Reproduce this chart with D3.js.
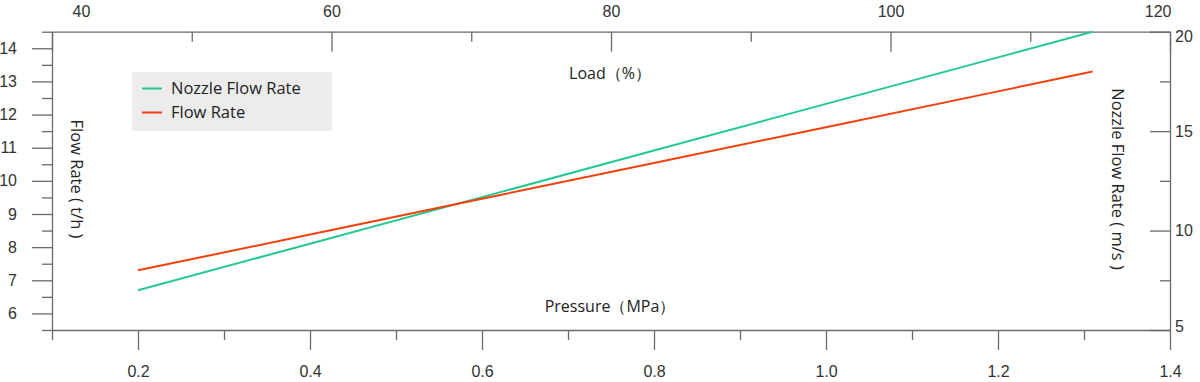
<!DOCTYPE html>
<html>
<head>
<meta charset="utf-8">
<script src="https://cdn.jsdelivr.net/npm/d3@7"></script>
<style>
  html, body { margin: 0; padding: 0; background: #fff; }
  svg { display: block; }
</style>
</head>
<body>
<svg id="chart" width="1200" height="382"></svg>
<script>
// ---- data ----
const pressure = [0.2, 0.4, 0.6, 0.8, 1.0, 1.2, 1.31];          // MPa
const flowRate = [7.3, 8.38, 9.46, 10.54, 11.62, 12.7, 13.3];   // t/h (left axis)
const nozzleFlowRate = [7.0, 9.34, 11.68, 14.03, 16.37, 18.71, 20.0]; // m/s (right axis)

const seriesNames = ["Nozzle Flow Rate", "Flow Rate"];
const seriesColors = ["#22c990", "#f2400f"];

const bottomMajorTicks = [0.2, 0.4, 0.6, 0.8, 1.0, 1.2, 1.4];
const bottomMinorTicks = [0.1, 0.3, 0.5, 0.7, 0.9, 1.1, 1.3];
const bottomTickLabels = ["0.2", "0.4", "0.6", "0.8", "1.0", "1.2", "1.4"];
const topMajorTicks = [40, 60, 80, 100, 120];
const topMinorTicks = [50, 70, 90, 110];
const leftMajorTicks = [6, 7, 8, 9, 10, 11, 12, 13, 14];
const leftMinorTicks = [5.5, 6.5, 7.5, 8.5, 9.5, 10.5, 11.5, 12.5, 13.5, 14.5];
const rightMajorTicks = [5, 10, 15, 20];
const rightMinorTicks = [7.5, 12.5, 17.5];

const labelBottom = "Pressure（MPa）";
const labelTop = "Load（%）";
const labelLeft = "Flow Rate ( t/h )";
const labelRight = "Nozzle Flow Rate ( m/s )";

// ---- layout ----
const L = 52, R = 1170, T = 31.7, B = 330;
const axisColor = "#6a6a6a";
const tickFont = "'Liberation Sans', Arial, sans-serif";
const textFont = "'Open Sans', 'Noto Sans', sans-serif";

const svg = d3.select("#chart");

const x = d3.scaleLinear().domain([0.1, 1.4]).range([L, R]);
const xTop = d3.scaleLinear().domain([40, 120]).range([L, R]);
const yL = d3.scaleLinear().domain([5.5, 14.5]).range([B, T]);
const yR = d3.scaleLinear().domain([5, 20]).range([B, T]);

function styleAxis(g) {
  g.selectAll("path, line").attr("stroke", axisColor).attr("stroke-width", 1.3);
  g.selectAll("text").attr("fill", "#333").style("font-family", tickFont).style("font-size", "16px");
}

// bottom axis
const gB = svg.append("g").attr("transform", `translate(0,${B})`);
gB.call(d3.axisBottom(x).tickValues(bottomMajorTicks).tickSize(20).tickSizeOuter(0).tickPadding(16)
  .tickFormat((d, i) => bottomTickLabels[i]));
gB.append("g").call(d3.axisBottom(x).tickValues(bottomMinorTicks).tickSize(10).tickFormat(""))
  .select(".domain").remove();
styleAxis(gB);

// top axis
const gT = svg.append("g").attr("transform", `translate(0,${T})`);
gT.call(d3.axisTop(xTop).tickValues(topMajorTicks).tickSize(-20).tickSizeOuter(0).tickPadding(15)
  .tickFormat(d3.format("d")));
gT.append("g").call(d3.axisTop(xTop).tickValues(topMinorTicks).tickSize(-10).tickFormat(""))
  .select(".domain").remove();
styleAxis(gT);
gT.selectAll(".tick text").filter(d => d === 40).attr("dx", 29);
gT.selectAll(".tick text").filter(d => d === 120).attr("text-anchor", "end").attr("dx", 1);

// left axis
const gL = svg.append("g").attr("transform", `translate(${L},0)`);
gL.call(d3.axisLeft(yL).tickValues(leftMajorTicks).tickSize(20).tickSizeOuter(0).tickPadding(15)
  .tickFormat(d3.format("d")));
gL.append("g").call(d3.axisLeft(yL).tickValues(leftMinorTicks).tickSize(10).tickFormat(""))
  .select(".domain").remove();
styleAxis(gL);

// right axis
const gR = svg.append("g").attr("transform", `translate(${R},0)`);
gR.call(d3.axisRight(yR).tickValues(rightMajorTicks).tickSize(-20).tickSizeOuter(0).tickPadding(5)
  .tickFormat(d3.format("d")));
gR.append("g").call(d3.axisRight(yR).tickValues(rightMinorTicks).tickSize(-10).tickFormat(""))
  .select(".domain").remove();
styleAxis(gR);
gR.selectAll(".tick text").filter(d => d === 20).attr("dy", "0.62em");
gR.selectAll(".tick text").filter(d => d === 5).attr("dy", "0.07em");

// lines
const lineL = d3.line().x(d => x(d[0])).y(d => yL(d[1]));
const lineR = d3.line().x(d => x(d[0])).y(d => yR(d[1]));
svg.append("path").datum(pressure.map((p, i) => [p, nozzleFlowRate[i]]))
  .attr("d", lineR).attr("fill", "none").attr("stroke", seriesColors[0]).attr("stroke-width", 2);
svg.append("path").datum(pressure.map((p, i) => [p, flowRate[i]]))
  .attr("d", lineL).attr("fill", "none").attr("stroke", seriesColors[1]).attr("stroke-width", 2);

// axis titles
const titleStyle = (s, size) => s.attr("fill", "#222").style("font-family", textFont).style("font-size", size + "px");
svg.append("text").attr("x", 610).attr("y", 79).attr("text-anchor", "middle").text(labelTop).call(titleStyle, 16);
svg.append("text").attr("x", 610).attr("y", 312).attr("text-anchor", "middle").text(labelBottom).call(titleStyle, 16);
svg.append("text").attr("transform", "translate(71,179) rotate(90)").attr("text-anchor", "middle").text(labelLeft).call(titleStyle, 16.5);
svg.append("text").attr("transform", "translate(1112,179) rotate(90)").attr("text-anchor", "middle").text(labelRight).call(titleStyle, 16.5);

// legend
const lg = svg.append("g");
lg.append("rect").attr("x", 132).attr("y", 72).attr("width", 200).attr("height", 59).attr("fill", "#ececec");
seriesNames.forEach((name, i) => {
  const yy = 88.5 + i * 24;
  lg.append("line").attr("x1", 142).attr("x2", 162).attr("y1", yy).attr("y2", yy)
    .attr("stroke", seriesColors[i]).attr("stroke-width", 2);
  lg.append("text").attr("x", 171).attr("y", yy).attr("dy", "0.35em").text(name).call(titleStyle, 16.5);
});
</script>
</body>
</html>
